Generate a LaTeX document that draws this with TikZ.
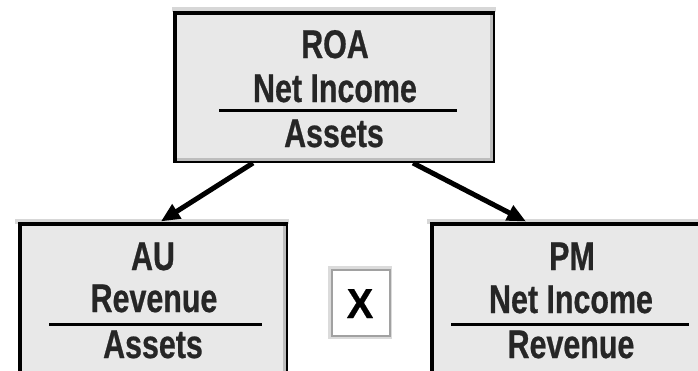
\documentclass[tikz,border=0pt]{standalone}
\usepackage{fontspec}
\setmainfont{Liberation Sans}
\newfontfamily\narrowsans{Liberation Sans Bold}[FakeStretch=0.76, FakeBold=0.6]
\newfontfamily\widesans{Liberation Sans Bold}[FakeStretch=0.95, FakeBold=0.4]
\usetikzlibrary{arrows.meta,calc}
\definecolor{boxfill}{HTML}{E8E8E8}
\definecolor{bevel}{HTML}{BDBDBD}
\definecolor{ink}{HTML}{262626}
\tikzset{
  ratio/.style={draw=black, line width=4pt, fill=boxfill, inner sep=0pt},
  label/.style={anchor=base, text=ink, font=\narrowsans\fontsize{40}{42}\selectfont, inner sep=0pt},
  fracline/.style={line width=3pt, black},
  link/.style={line width=5pt, black, -{Triangle[length=19pt,width=16pt]}, shorten >=1pt},
  timesbox/.style={draw=bevel!85!black, line width=2.5pt, fill=white, minimum width=58pt, minimum height=66pt, inner sep=0pt},
}
\begin{document}
\begin{tikzpicture}[x=1pt,y=-1pt]
  \useasboundingbox (0,0) rectangle (698,370);
  \clip (0,0) rectangle (698,370);

  % bevel shading behind the boxes
  \fill[bevel!60!white] (172,7) rectangle (496,12);
  \fill[bevel!60!white] (15,219) rectangle (289,224);
  \fill[bevel!60!white] (427,219) rectangle (712,224);

  % ratio boxes
  \node[ratio, minimum width=318pt, minimum height=148pt] (roa) at (334,87) {};
  \node[ratio, minimum width=266pt, minimum height=170pt] (au) at (153,309) {};
  \node[ratio, minimum width=280pt, minimum height=170pt] (pm) at (572,309) {};

  % inner bevel on the right and bottom edges
  \draw[bevel, line width=2.5pt] ($(roa.north east)+(-3.5,4)$) -- ($(roa.south east)+(-3.5,-3.5)$) -- ($(roa.south west)+(4,-3.5)$);
  \draw[bevel, line width=2.5pt] ($(au.north east)+(-3.5,4)$) -- ($(au.south east)+(-3.5,0)$);

  % ROA = Net Income / Assets
  \node[label] (roat) at (335,58) {ROA};
  \node[label] (roan) at (335,102) {Net Income};
  \draw[fracline] (219,110) -- (457,110);
  \node[label] (road) at (334,147) {Assets};

  % AU = Revenue / Assets
  \node[label] (aut) at (153,270) {AU};
  \node[label] (aun) at (154,312) {Revenue};
  \draw[fracline] (49,324) -- (262,324);
  \node[label] (aud) at (153,358) {Assets};

  % PM = Net Income / Revenue
  \node[label] (pmt) at (572,270) {PM};
  \node[label] (pmn) at (571,313) {Net Income};
  \draw[fracline] (451,324) -- (689,324);
  \node[label] (pmd) at (571,358) {Revenue};

  % multiplication sign between the two factors
  \fill[bevel!55!white] (328,266) rectangle (392,339);
  \node[timesbox] (times) at (361,303) {};
  \node[anchor=base, inner sep=0pt, text=black, font=\widesans\fontsize{42}{44}\selectfont] (timest) at (360,318) {X};

  % decomposition arrows
  \draw[link] ($(roa.south)+(-81,0)$) -- ($(au.north)+(7,0)$);
  \draw[link] ($(roa.south)+(79,0)$) -- ($(pm.north)+(-45,0)$);
\end{tikzpicture}
\end{document}
